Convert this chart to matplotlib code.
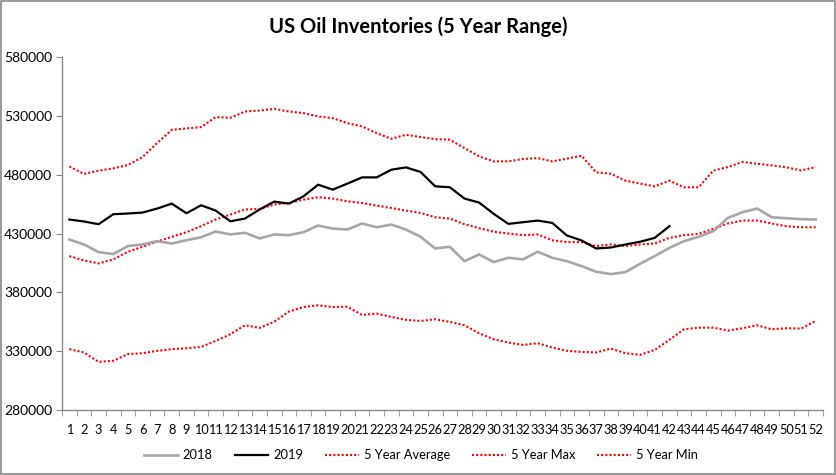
import matplotlib
matplotlib.use('Agg')
from matplotlib import pyplot as plt
from matplotlib.patches import Rectangle

weeks = list(range(1, 53))

inv_2018 = [424900, 420700, 414200, 412500, 419300, 420700, 423500, 421500, 424300, 426800,
            431700, 429200, 430600, 425800, 429200, 428600, 431100, 436800, 434200, 433400,
            438500, 435300, 437600, 433400, 427200, 417300, 418700, 406500, 412200, 405700,
            409400, 408000, 414500, 409400, 406500, 402300, 397500, 395500, 397200, 404300,
            410800, 417800, 423500, 427200, 432000, 443300, 448100, 451200, 443800, 443000,
            442200, 441900]

inv_2019 = [441900, 440200, 437900, 446400, 447000, 447800, 451200, 455400, 447200, 454000,
            449500, 440400, 442700, 450400, 457100, 455400, 461600, 471500, 467300, 472400,
            477700, 477700, 484200, 486200, 482300, 470100, 469300, 459700, 456300, 446700,
            438200, 439600, 441000, 439000, 428300, 424100, 417300, 418100, 420700, 423000,
            426300, 436200]

avg_5y = [410800, 407100, 404600, 408000, 414500, 418700, 423200, 427200, 431100, 436200,
          441900, 446100, 450400, 450900, 454600, 456000, 458800, 460800, 459700, 457400,
          456000, 453700, 451700, 449500, 447500, 443800, 442700, 437900, 434600, 431500,
          430000, 428600, 429200, 424300, 422700, 422700, 419300, 420700, 419300, 420700,
          421500, 426300, 428600, 429700, 434000, 438500, 441000, 441000, 438500, 436200,
          435300, 435300]

max_5y = [487000, 480600, 483400, 485300, 488200, 495000, 506900, 518100, 519300, 520400,
          528900, 528300, 533700, 534500, 535900, 533700, 532300, 529500, 528000, 523800,
          521000, 515300, 510500, 513900, 512000, 510200, 509700, 502600, 495500, 491300,
          491300, 493300, 494100, 491300, 493600, 496100, 482000, 480800, 474900, 472400,
          470100, 474900, 469300, 469300, 483400, 486500, 490800, 489300, 487900, 486200,
          483600, 486500]

min_5y = [331700, 328900, 320900, 321800, 327500, 328300, 330300, 331700, 332500, 333600,
          338700, 344400, 352000, 349800, 355000, 363600, 367500, 369000, 367500, 367800,
          360800, 361900, 359100, 356600, 355700, 357100, 354900, 352000, 345200, 340200,
          337300, 335300, 336800, 333100, 330300, 329400, 328900, 332200, 328300, 326900,
          331100, 339600, 348600, 350000, 350000, 347500, 349500, 352000, 348600, 349500,
          349200, 355700]

y_ticks = list(range(280000, 580001, 50000))

plt.rcParams['font.family'] = ['Lato', 'DejaVu Sans']

fig = plt.figure(figsize=(8.37, 4.75), dpi=100)
ax = fig.add_axes([0.0741, 0.1368, 0.9092, 0.7432])

dots = (0, (1, 1))
ax.plot(weeks, inv_2018, color='#a6a6a6', lw=1.9, label='2018', zorder=3)
ax.plot(weeks[:len(inv_2019)], inv_2019, color='black', lw=1.6, label='2019', zorder=4)
ax.plot(weeks, avg_5y, color='red', lw=1.5, ls=dots, label='5 Year Average', zorder=2)
ax.plot(weeks, max_5y, color='red', lw=1.5, ls=dots, label='5 Year Max', zorder=2)
ax.plot(weeks, min_5y, color='red', lw=1.5, ls=dots, label='5 Year Min', zorder=2)

ax.set_xlim(0.5, 52.5)
ax.set_ylim(280000, 580000)
ax.set_yticks(y_ticks)
ax.set_yticklabels([str(v) for v in y_ticks], fontsize=10)

ax.set_xticks(weeks)
ax.set_xticklabels([str(w) for w in weeks], fontsize=9.2)
ax.set_xticks([w + 0.5 for w in range(0, 53)], minor=True)
ax.tick_params(axis='x', which='major', length=0, pad=10)
ax.tick_params(axis='x', which='minor', length=4, color='#888888', direction='out')
ax.tick_params(axis='y', length=4, color='#888888', direction='out', pad=3)

for side in ['top', 'right']:
    ax.spines[side].set_visible(False)
for side in ['left', 'bottom']:
    ax.spines[side].set_color('#888888')
    ax.spines[side].set_linewidth(1)

fig.text(0.5, 0.943, 'US Oil Inventories (5 Year Range)', ha='center', va='center',
         fontsize=14.5, fontweight='bold')

fig.legend(loc='center', bbox_to_anchor=(0.503, 0.042), ncol=5, frameon=False,
           fontsize=9.3, handlelength=2.6, columnspacing=1.7, handletextpad=0.4)

fig.patches.append(Rectangle((0.001, 0.003), 0.997, 0.994, transform=fig.transFigure,
                             fill=False, edgecolor='#888888', lw=1.2))

fig.savefig('out.png', dpi=100)
